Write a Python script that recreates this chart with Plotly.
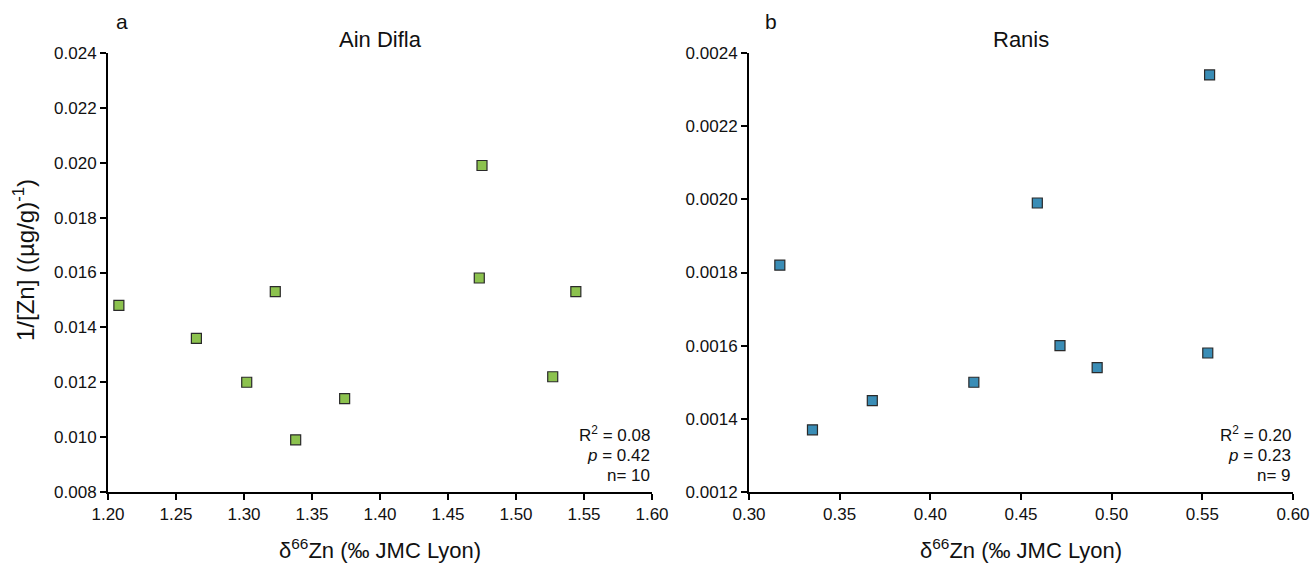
import plotly.graph_objects as go

# Panel a: Ain Difla
ain_x = [1.208, 1.265, 1.302, 1.323, 1.338, 1.374, 1.473, 1.475, 1.527, 1.544]
ain_y = [0.0148, 0.0136, 0.0120, 0.0153, 0.0099, 0.0114, 0.0158, 0.0199, 0.0122, 0.0153]

# Panel b: Ranis
ranis_x = [0.317, 0.335, 0.368, 0.424, 0.459, 0.4715, 0.492, 0.553, 0.554]
ranis_y = [0.00182, 0.00137, 0.00145, 0.00150, 0.00199, 0.00160, 0.00154, 0.00158, 0.00234]

a_xticks = [1.20, 1.25, 1.30, 1.35, 1.40, 1.45, 1.50, 1.55, 1.60]
a_yticks = [0.008, 0.010, 0.012, 0.014, 0.016, 0.018, 0.020, 0.022, 0.024]
b_xticks = [0.30, 0.35, 0.40, 0.45, 0.50, 0.55, 0.60]
b_yticks = [0.0012, 0.0014, 0.0016, 0.0018, 0.0020, 0.0022, 0.0024]

stats_a = ["R<sup>2</sup> = 0.08", "<i>p</i> = 0.42", "n= 10"]
stats_b = ["R<sup>2</sup> = 0.20", "<i>p</i> = 0.23", "n= 9"]

FONT = "Liberation Sans, Arial, sans-serif"
GREEN = "#8cc24e"
BLUE = "#3a8db6"

W, H = 1312, 563
top, bottom = 53, 492

def fx(pix):
    return pix / W

def py(pix):
    return (bottom - pix) / (bottom - top)

fig = go.Figure()
fig.add_trace(go.Scatter(x=ain_x, y=ain_y, mode="markers", xaxis="x", yaxis="y",
                         marker=dict(symbol="square", size=10, color=GREEN,
                                     line=dict(color="#2a2a2a", width=1.2)),
                         showlegend=False))
fig.add_trace(go.Scatter(x=ranis_x, y=ranis_y, mode="markers", xaxis="x2", yaxis="y2",
                         marker=dict(symbol="square", size=10, color=BLUE,
                                     line=dict(color="#2a2a2a", width=1.2)),
                         showlegend=False))

ax_common = dict(showline=True, linecolor="black", linewidth=2, ticks="outside",
                 ticklen=6, tickwidth=2, tickcolor="black", showgrid=False,
                 zeroline=False, automargin=False,
                 tickfont=dict(family=FONT, size=17, color="#111"))

xd1 = [fx(108), fx(652)]
xd2 = [fx(749), fx(1293)]

fig.update_layout(
    width=W, height=H,
    margin=dict(l=0, r=0, t=top, b=H - bottom, pad=0),
    plot_bgcolor="white", paper_bgcolor="white",
    font=dict(family=FONT, color="#111"),
    xaxis=dict(domain=xd1, range=[1.2, 1.6], tickvals=a_xticks, tickformat=".2f",
               anchor="y", **ax_common),
    yaxis=dict(domain=[0, 1], range=[0.008, 0.024], tickvals=a_yticks, tickformat=".3f",
               anchor="x", **ax_common),
    xaxis2=dict(domain=xd2, range=[0.3, 0.6], tickvals=b_xticks, tickformat=".2f",
                anchor="y2", **ax_common),
    yaxis2=dict(domain=[0, 1], range=[0.0012, 0.0024], tickvals=b_yticks, tickformat=".4f",
                anchor="x2", **ax_common),
)

anns = []
xtitle = "δ<sup>66</sup>Zn (‰ JMC Lyon)"
for d in (xd1, xd2):
    anns.append(dict(text=xtitle, x=(d[0] + d[1]) / 2, y=py(549), xref="paper", yref="paper",
                     xanchor="center", yanchor="middle", showarrow=False,
                     font=dict(family=FONT, size=22, color="#111")))
anns.append(dict(text="1/[Zn] ((µg/g)<sup>-1</sup>)", x=fx(24), y=py(260), xref="paper",
                 yref="paper", textangle=-90, xanchor="center", yanchor="middle",
                 showarrow=False, font=dict(family=FONT, size=24, color="#111")))
for lab, px in (("a", 122), ("b", 771)):
    anns.append(dict(text=lab, x=fx(px), y=py(22), xref="paper", yref="paper",
                     xanchor="center", yanchor="middle", showarrow=False,
                     font=dict(family=FONT, size=21, color="#111")))
for ttl, d in (("Ain Difla", xd1), ("Ranis", xd2)):
    anns.append(dict(text=ttl, x=(d[0] + d[1]) / 2, y=py(40), xref="paper", yref="paper",
                     xanchor="center", yanchor="middle", showarrow=False,
                     font=dict(family=FONT, size=22, color="#111")))
for stats, d in ((stats_a, xd1), (stats_b, xd2)):
    for s, pix in zip(stats, (434, 455, 475)):
        anns.append(dict(text=s, x=d[1], y=py(pix), xref="paper", yref="paper",
                         xanchor="right", yanchor="middle", showarrow=False,
                         font=dict(family=FONT, size=17, color="#111")))
fig.update_layout(annotations=anns)

fig.write_html("out.html", config={"displayModeBar": False},
               post_script="document.body.style.margin='0';document.body.style.overflow='hidden';")
